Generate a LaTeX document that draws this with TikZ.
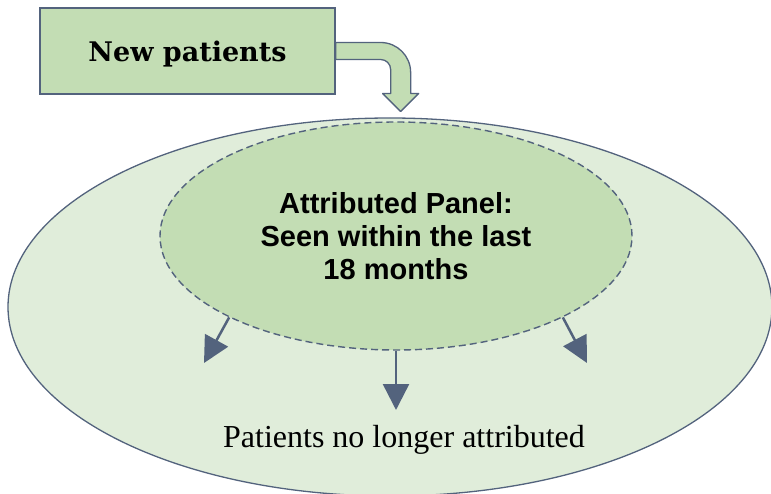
\documentclass[tikz,border=0pt]{standalone}
\usepackage{fontspec}
\setmainfont{Liberation Serif}
\newfontfamily\boxfont{DejaVu Serif}
\newfontfamily\panelfont{Liberation Sans}
\usepackage{tikz}
\usetikzlibrary{shapes.geometric,arrows.meta}
\definecolor{darkgreen}{RGB}{195,221,180}
\definecolor{palegreen}{RGB}{224,237,218}
\definecolor{slate}{RGB}{83,99,125}
\begin{document}
\begin{tikzpicture}[x=1pt,y=1pt,
      newbox/.style={rectangle,draw=slate,fill=darkgreen,line width=1.3pt,
        minimum width=295pt,minimum height=86pt,inner sep=0pt,text depth=0pt,
        font=\boxfont\bfseries\fontsize{27}{32}\selectfont},
      bentarrow/.style={draw=slate,fill=darkgreen,line width=1.3pt,line join=round},
      outerring/.style={ellipse,draw=slate,fill=palegreen,line width=1.3pt,
        minimum width=764pt,minimum height=378pt,inner sep=0pt},
      panel/.style={ellipse,draw=slate,fill=darkgreen,line width=1.4pt,
        dash pattern=on 7pt off 4pt,minimum width=472pt,minimum height=228pt,
        align=center,font=\panelfont\bfseries\fontsize{29}{33}\selectfont},
      leave/.style={draw=slate,line width=2.5pt,
        -{Triangle[length=26pt,width=26pt]}}]
    \useasboundingbox (0,0) rectangle (771,493);
    \clip (0,0) rectangle (771,493);
    \node[outerring] (outer) at (390,186) {};
    \node[panel] (panel) at (396,257) {Attributed Panel:\\Seen within the last\\18 months};
    \node[newbox] (newpat) at (187.5,442) {New patients};
    % bent block arrow out of the box
    \draw[bentarrow] ([yshift=8.5pt]newpat.east) -- ++(45,0)
      arc[start angle=90,end angle=0,radius=30pt] -- ++(0,-21) -- ++(8,0)
      -- ++(-18,-18) -- ++(-18,18) -- ++(8,0) -- ++(0,24)
      arc[start angle=0,end angle=90,radius=10pt]
      -- ([yshift=-8.5pt]newpat.east) -- cycle;
    \coordinate (lefttip) at (204,130);
    \coordinate (midtip) at (396,83);
    \coordinate (righttip) at (587,130);
    \draw[leave] (panel.206) -- (lefttip);
    \draw[leave] (panel.south) -- (midtip);
    \draw[leave] (panel.334) -- (righttip);
    \node[font=\fontsize{32}{36}\selectfont] (gone) at (404,53) {Patients no longer attributed};
  \end{tikzpicture}
\end{document}
